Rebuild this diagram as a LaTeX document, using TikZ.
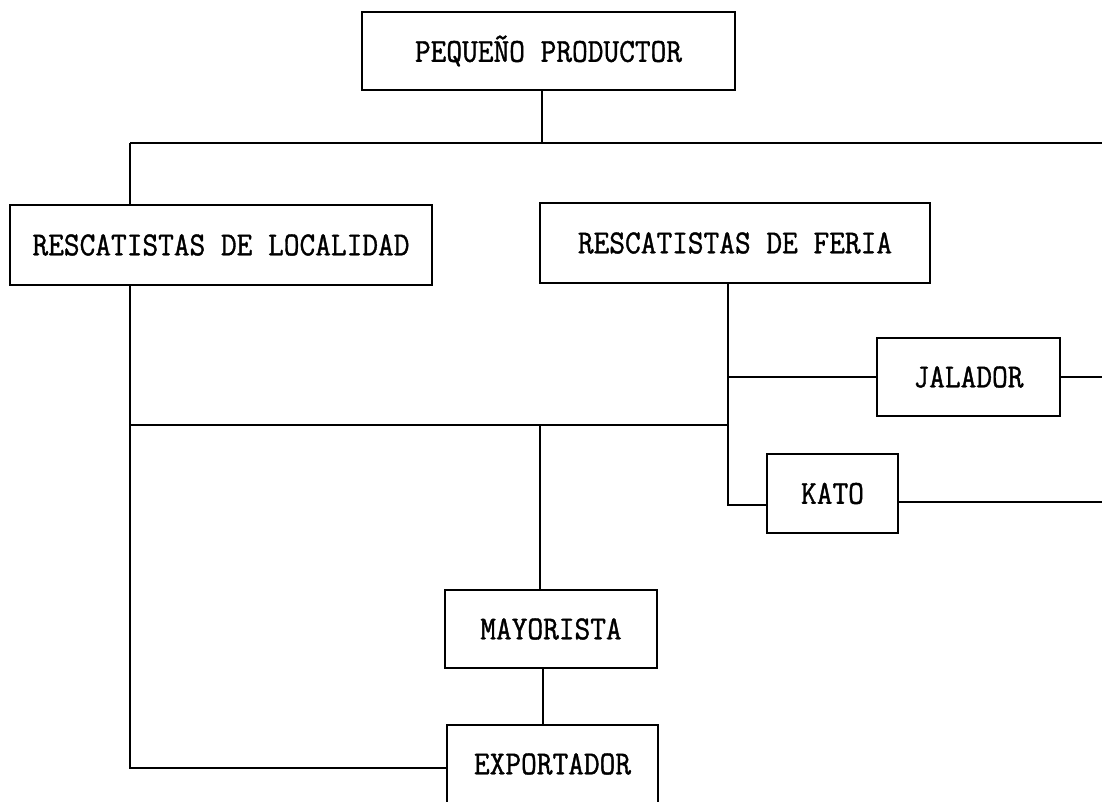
\documentclass[tikz,border=0pt]{standalone}
\usepackage{fontspec}
\newfontfamily\typew[FakeBold=1.2]{Latin Modern Mono}
\newcommand{\tw}[1]{\scalebox{1}[1.1]{#1}}
\begin{document}
\begin{tikzpicture}[x=1pt,y=-1pt,
  box/.style={draw, line width=2.6pt, inner sep=0pt, font=\fontsize{30.5}{36}\selectfont\typew},
  wire/.style={line width=2.3pt}]
\useasboundingbox (0,0) rectangle (1102,801);
% boxes
\node[box, minimum width=373pt, minimum height=78pt] (prod) at (548.5,51) {\tw{PEQUEÑO PRODUCTOR}};
\node[box, minimum width=422pt, minimum height=80pt] (loc) at (221,245) {\tw{RESCATISTAS DE LOCALIDAD}};
\node[box, minimum width=390pt, minimum height=80pt] (fer) at (735,243) {\tw{RESCATISTAS DE FERIA}};
\node[box, minimum width=183pt, minimum height=78pt] (jal) at (968.5,377) {\tw{JALADOR}};
\node[box, minimum width=131pt, minimum height=79pt] (kato) at (832.5,493.5) {\tw{KATO}};
\node[box, minimum width=212pt, minimum height=78pt] (may) at (551,629) {\tw{MAYORISTA}};
\node[box, minimum width=211pt, minimum height=78pt] (exp) at (552.5,764) {\tw{EXPORTADOR}};
% coordinates
\coordinate (t1) at (542,143);
\coordinate (tL) at (130,143);
\coordinate (tR) at (1102,143);
\coordinate (bL) at (130,768);
\coordinate (mL) at (130,425);
\coordinate (mR) at (728,425);
\coordinate (mM) at (540,425);
\coordinate (kB) at (728,505);
\coordinate (kR) at (1102,502);
\coordinate (me) at (543,700);
% connectors
\draw[wire] (prod.south -| t1) -- (t1);
\draw[wire] (tL) -- (tR);
\draw[wire] (tL) -- (loc.north -| tL);
\draw[wire] (loc.south -| tL) -- (bL) -- (exp.west |- bL);
\draw[wire] (mL) -- (mR);
\draw[wire] (fer.south -| mR) -- (kB) -- (kato.west |- kB);
\draw[wire] (jal.west -| mR) -- (jal.west);
\draw[wire] (jal.east) -- (jal.east -| tR);
\draw[wire] (kato.east |- kR) -- (kR);
\draw[wire] (mM) -- (may.north -| mM);
\draw[wire] (may.south -| me) -- (exp.north -| me);
\end{tikzpicture}
\end{document}
